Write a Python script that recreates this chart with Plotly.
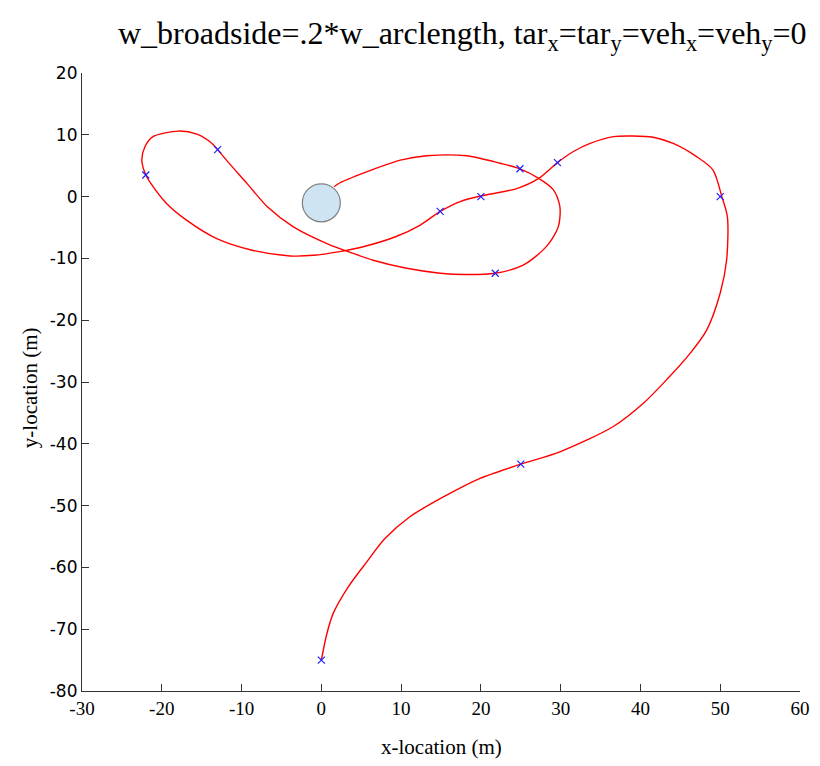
import plotly.graph_objects as go

# trajectory (m)
path_x = [0, 0.7, 1.5, 3.4, 5.7, 8.0, 11.1, 15.3, 19.9, 25.0, 29.9, 36.6, 40.4, 43.3, 46.2, 48.3,
          50.0, 50.8, 50.9, 50.2, 49.1, 47.0, 44.1, 41.6, 39.0, 36.6, 33.7, 31.6, 29.6, 27.2, 24.5,
          20.0, 17.4, 14.9, 12.4, 9.3, 5.0, 2.3, -1.0, -3.9, -8.9, -13.1, -16.9, -19.4, -21.5,
          -22.0, -22.5, -22.1, -21.1, -17.9, -15.6, -13.7, -13.0, -11.9, -9.3, -6.8, -3.5, 0.7,
          4.0, 6.5, 10.7, 14.9, 18.0, 21.8, 25.3, 28.2, 29.7, 29.9, 29.1, 27.2, 24.9, 22.4, 18.2,
          13.2, 9.9, 6.5, 2.3, 1.6]
path_y = [-75, -70.7, -67.4, -63.1, -59.1, -55.3, -51.8, -48.6, -45.6, -43.3, -41.3, -37.2, -33.4,
          -29.6, -25.4, -21.6, -15.6, -10.3, -3.3, 0, 4.3, 6.5, 8.6, 9.6, 9.8, 9.7, 8.6, 7.3, 5.5,
          2.9, 1.3, 0.1, -0.8, -2.4, -4.6, -6.5, -8.2, -8.9, -9.5, -9.6, -8.6, -6.8, -3.8, -1.1,
          2.4, 3.5, 5.9, 8.1, 9.7, 10.6, 10.1, 8.6, 7.6, 5.9, 2.1, -1.6, -4.9, -7.6, -9.2, -10.3,
          -11.6, -12.4, -12.6, -12.4, -11.1, -8.1, -4.9, -1.6, 1.1, 3.0, 4.5, 5.4, 6.6, 6.6, 5.9,
          4.4, 2.2, 1.6]

# waypoints (m)
wp_x = [0, 25, 50, 29.6, 20, 14.9, -22, -13, 21.8, 24.9]
wp_y = [-75, -43.3, 0, 5.5, 0, -2.4, 3.5, 7.6, -12.4, 4.5]

# vehicle / target
veh_x = [0]
veh_y = [-1]

x_ticks = [-30, -20, -10, 0, 10, 20, 30, 40, 50, 60]
y_ticks = [20, 10, 0, -10, -20, -30, -40, -50, -60, -70, -80]

SERIF = "Liberation Serif, Times New Roman, serif"

fig = go.Figure()
fig.add_trace(go.Scatter(x=path_x, y=path_y, mode="lines",
                         line=dict(color="#ff0000", width=1.4, shape="spline", smoothing=0.8),
                         showlegend=False, hoverinfo="skip"))
fig.add_trace(go.Scatter(x=wp_x, y=wp_y, mode="markers",
                         marker=dict(symbol="x-thin", size=7, line=dict(color="#2020ff", width=1.2)),
                         showlegend=False))
fig.add_trace(go.Scatter(x=veh_x, y=veh_y, mode="markers",
                         marker=dict(symbol="circle", size=38, color="#cfe4f2",
                                     line=dict(color="#808080", width=1.2)),
                         showlegend=False))

fig.update_layout(
    width=820, height=766,
    margin=dict(l=74, r=28, t=65, b=83, autoexpand=False),
    paper_bgcolor="white", plot_bgcolor="white",
    title=dict(text="w_broadside=.2*w_arclength, tar<sub>x</sub>=tar<sub>y</sub>=veh<sub>x</sub>=veh<sub>y</sub>=0",
               x=0.554, xanchor="center", y=0.982, yanchor="top",
               font=dict(family=SERIF, size=32, color="black")),
    annotations=[
        dict(text="x-location (m)", xref="paper", yref="paper", x=0.5, y=0, yshift=-56,
             xanchor="center", yanchor="middle", showarrow=False,
             font=dict(family=SERIF, size=21, color="black")),
        dict(text="y-location (m)", xref="paper", yref="paper", x=0, y=0.49, xshift=-52,
             xanchor="center", yanchor="middle", showarrow=False, textangle=-90,
             font=dict(family=SERIF, size=21, color="black")),
    ],
)
fig.update_xaxes(range=[-30, 60], tickvals=x_ticks, ticktext=[str(v) for v in x_ticks],
                 automargin=False,
                 showgrid=False, zeroline=False, showline=True, linecolor="#333333", linewidth=1.2,
                 ticks="inside", ticklen=7, tickcolor="#333333",
                 tickfont=dict(family=SERIF, size=19, color="black"))
fig.update_yaxes(range=[-80, 20], tickvals=y_ticks, ticktext=[str(v) for v in y_ticks],
                 automargin=False,
                 showgrid=False, zeroline=False, showline=True, linecolor="#333333", linewidth=1.2,
                 ticks="inside", ticklen=7, tickcolor="#333333",
                 tickfont=dict(family="DejaVu Sans", size=17, color="black"))

fig.write_html("out.html")
